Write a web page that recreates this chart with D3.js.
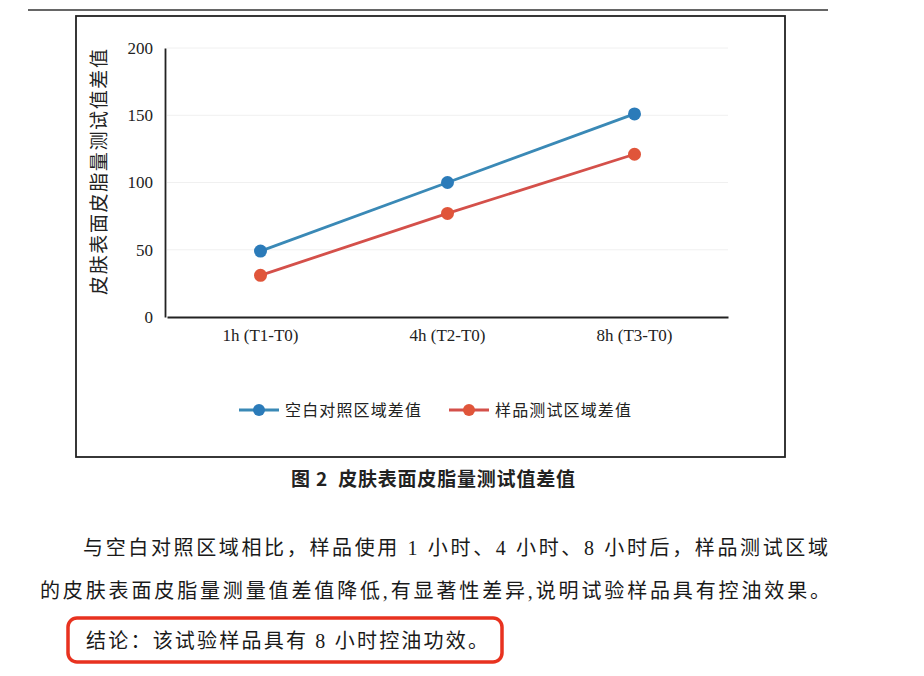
<!DOCTYPE html>
<html><head><meta charset="utf-8">
<script src="https://cdn.jsdelivr.net/npm/d3@7"></script>
<style>
html,body{margin:0;padding:0;background:#fff;}
svg{display:block;}
</style>
</head><body>
<svg id="c" width="924" height="676"></svg>
<script>
const categories = ["1h (T1-T0)", "4h (T2-T0)", "8h (T3-T0)"];
const blankValues = [49, 100, 151];
const sampleValues = [31, 77, 121];
const seriesNames = ["空白对照区域差值", "样品测试区域差值"];
const yTicks = [0, 50, 100, 150, 200];
const yTitle = "皮肤表面皮脂量测试值差值";
const caption = "图 2  皮肤表面皮脂量测试值差值";
const para1 = "与空白对照区域相比，样品使用 1 小时、4 小时、8 小时后，样品测试区域";
const para2 = "的皮肤表面皮脂量测量值差值降低,有显著性差异,说明试验样品具有控油效果。";
const conclusion = "结论：该试验样品具有 8 小时控油功效。";

const blue = "#2b7bb9", blueLine = "#3a89b6";
const red = "#e0553a", redLine = "#d4504a";
const serif = "'Liberation Serif','Noto Sans CJK SC',serif";
const cjk = "'Noto Sans CJK SC',sans-serif";

const svg = d3.select("#c");
svg.append("rect").attr("width",924).attr("height",676).attr("fill","#fff");

// page top rule
svg.append("line").attr("x1",28).attr("x2",828).attr("y1",10).attr("y2",10)
  .attr("stroke","#333").attr("stroke-width",1.3);

// chart frame
svg.append("rect").attr("x",76).attr("y",16).attr("width",709).attr("height",441)
  .attr("fill","none").attr("stroke","#222").attr("stroke-width",1.8);

const x = d3.scaleBand().domain(categories).range([167, 728]).padding(0);
const y = d3.scaleLinear().domain([0, 200]).range([317, 48]);

// gridlines
svg.append("g").selectAll("line").data(yTicks.filter(d=>d>0)).join("line")
  .attr("x1",167).attr("x2",728).attr("y1",d=>y(d)).attr("y2",d=>y(d))
  .attr("stroke","#f0f0f0").attr("stroke-width",1);

// y axis
const yAxis = svg.append("g").attr("transform","translate(165,0)")
  .call(d3.axisLeft(y).tickValues(yTicks).tickSize(0).tickPadding(12));
yAxis.select(".domain").attr("stroke","#222").attr("stroke-width",1.8);
yAxis.selectAll("text").attr("font-family",serif).attr("font-size",17).attr("fill","#222");

// x axis
const xAxis = svg.append("g").attr("transform","translate(0,317)")
  .call(d3.axisBottom(x).tickSize(0).tickPadding(12));
xAxis.select(".domain").attr("stroke","#222").attr("stroke-width",1.8);
xAxis.selectAll("text").attr("font-family",serif).attr("font-size",17).attr("fill","#222");

// y title
svg.append("text").attr("transform","translate(106,172) rotate(-90)")
  .attr("text-anchor","middle").attr("font-family",cjk).attr("font-size",19)
  .attr("fill","#222").attr("textLength",246).attr("lengthAdjust","spacing").text(yTitle);

const cx = d => x(d) + x.bandwidth()/2;
const line = d3.line().x(d=>cx(d[0])).y(d=>y(d[1]));
const series = [
  {vals: blankValues, c: blue, lc: blueLine},
  {vals: sampleValues, c: red, lc: redLine}
];
series.forEach(s => {
  const pts = categories.map((c,i)=>[c, s.vals[i]]);
  svg.append("path").attr("d", line(pts)).attr("fill","none")
    .attr("stroke", s.lc).attr("stroke-width",2.8);
  svg.append("g").selectAll("circle").data(pts).join("circle")
    .attr("cx",d=>cx(d[0])).attr("cy",d=>y(d[1])).attr("r",6.5).attr("fill",s.c);
});

// legend
const legX = [239, 449];
series.forEach((s,i)=>{
  const g = svg.append("g").attr("transform",`translate(${legX[i]},410)`);
  g.append("line").attr("x1",0).attr("x2",40).attr("stroke",s.lc).attr("stroke-width",2.8);
  g.append("circle").attr("cx",20).attr("r",6).attr("fill",s.c);
  g.append("text").attr("x",46).attr("y",6).attr("font-family",cjk).attr("font-size",16)
    .attr("fill","#222").attr("textLength",136).attr("lengthAdjust","spacing").text(seriesNames[i]);
});

// caption
svg.append("text").attr("x",291).attr("y",486).attr("font-family",cjk).attr("font-weight","bold")
  .attr("font-size",19).attr("fill","#222").attr("textLength",284).attr("lengthAdjust","spacing")
  .attr("xml:space","preserve").text(caption);

// paragraph text
svg.append("text").attr("x",83).attr("y",555).attr("font-family",serif).attr("font-size",20)
  .attr("fill","#1a1a1a").attr("textLength",745).attr("lengthAdjust","spacing").text(para1);
svg.append("text").attr("x",40).attr("y",598).attr("font-family",serif).attr("font-size",20)
  .attr("fill","#1a1a1a").attr("textLength",790).attr("lengthAdjust","spacing").text(para2);

// conclusion box
svg.append("rect").attr("x",68).attr("y",618).attr("width",434).attr("height",44).attr("rx",9)
  .attr("fill","none").attr("stroke","#e8321f").attr("stroke-width",3.5);
svg.append("text").attr("x",86).attr("y",648).attr("font-family",serif).attr("font-size",20)
  .attr("fill","#1a1a1a").attr("textLength",402).attr("lengthAdjust","spacing").text(conclusion);
</script>
</body></html>
